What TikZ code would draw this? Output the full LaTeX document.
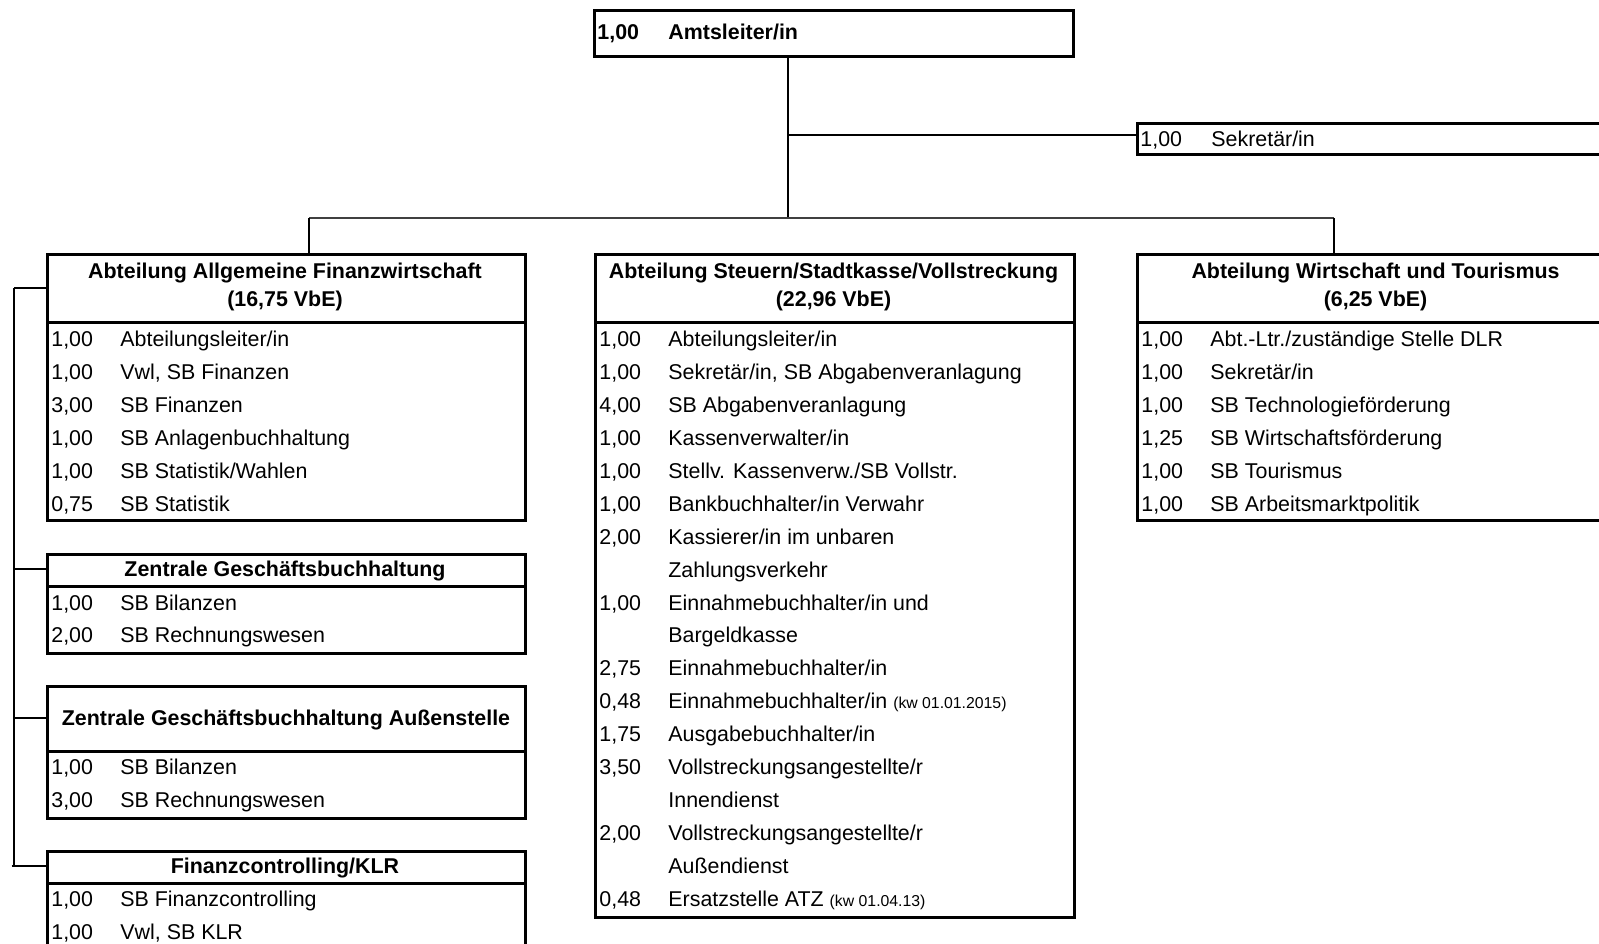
\documentclass[tikz,border=0pt]{standalone}
\usepackage{fontspec}
\setmainfont{Liberation Sans}
\usetikzlibrary{calc}
\tikzset{
 box/.style={draw, line width=1.5pt, inner sep=0pt, anchor=north west, rectangle},
 divider/.style={line width=1.5pt},
 conn/.style={line width=1pt, black},
 barline/.style={line width=0.8pt, black!75},
 rowtxt/.style={anchor=base west, inner sep=0pt, font=\fontsize{10.7}{12.8}\selectfont},
 boldtxt/.style={anchor=base west, inner sep=0pt, font=\fontsize{10.7}{12.8}\selectfont\bfseries},
 headtxt/.style={anchor=base, inner sep=0pt, font=\fontsize{10.7}{12.8}\selectfont\bfseries},
}
\newcommand{\smalltext}[1]{{\fontsize{7.9}{9}\selectfont #1}}
\newcommand{\orgbox}[5]{\node[box, minimum width={(#4-#2)*0.5pt}, minimum height={(#5-#3)*0.5pt}] (#1) at (#2,#3) {};}
\newcommand{\orgrow}[5]{%
 \node[rowtxt] (#1n) at ({#2+5},{346.5+32.94*#3}) {#4};
 \node[rowtxt] (#1t) at ({#2+74},{346.5+32.94*#3}) {#5};}
\begin{document}
\begin{tikzpicture}[x=0.5pt,y=-0.5pt]
\useasboundingbox (0,0) rectangle (1599,943);
\clip (0,0) rectangle (1599,943);

% ---- top boxes
\orgbox{amt}{593}{9}{1072}{55}
\node[boldtxt] (amtn) at (597,39) {1,00};
\node[boldtxt] (amtt) at (668,39) {Amtsleiter/in};

\orgbox{sek}{1136}{122}{1615}{153}
\node[rowtxt] (sekn) at (1140,146) {1,00};
\node[rowtxt] (sekt) at (1211,146) {Sekretär/in};

% ---- connectors top
\coordinate (jA) at (788,218);
\coordinate (jS) at (788,135);
\coordinate (bl) at (309,218);
\coordinate (br) at (1334,218);
\draw[conn] (amt.south -| jA) -- (jA);
\draw[conn] (jS) -- (jS -| sek.west);
\draw[barline] (bl) -- (br);

% ---- left: Abteilung Allgemeine Finanzwirtschaft
\orgbox{afw}{46}{253}{524}{519}
\draw[divider] (46,322.5) -- (524,322.5);
\node[headtxt] (afwh1) at (285,278) {Abteilung Allgemeine Finanzwirtschaft};
\node[headtxt] (afwh2) at (285,306) {(16,75 VbE)};
\orgrow{afwa}{46}{0}{1,00}{Abteilungsleiter/in}
\orgrow{afwb}{46}{1}{1,00}{Vwl, SB Finanzen}
\orgrow{afwc}{46}{2}{3,00}{SB Finanzen}
\orgrow{afwd}{46}{3}{1,00}{SB Anlagenbuchhaltung}
\orgrow{afwe}{46}{4}{1,00}{SB Statistik/Wahlen}
\orgrow{afwf}{46}{5}{0,75}{SB Statistik}

% ---- Zentrale Geschäftsbuchhaltung
\orgbox{zgb}{46}{553}{524}{652}
\draw[divider] (46,586) -- (524,586);
\node[headtxt] (zgbh) at (285,576.5) {Zentrale Geschäftsbuchhaltung};
\orgrow{zgba}{46}{8}{1,00}{SB Bilanzen}
\orgrow{zgbb}{46}{9}{2,00}{SB Rechnungswesen}

% ---- Zentrale Geschäftsbuchhaltung Außenstelle
\orgbox{zga}{46}{685}{524}{817}
\draw[divider] (46,751) -- (524,751);
\node[headtxt] (zgah) at (286,725) {Zentrale Geschäftsbuchhaltung Außenstelle};
\orgrow{zgaa}{46}{13}{1,00}{SB Bilanzen}
\orgrow{zgab}{46}{14}{3,00}{SB Rechnungswesen}

% ---- Finanzcontrolling/KLR
\orgbox{fc}{46}{850}{524}{965}
\draw[divider] (46,883) -- (524,883);
\node[headtxt] (fch) at (285,873.5) {Finanzcontrolling/KLR};
\orgrow{fca}{46}{17}{1,00}{SB Finanzcontrolling}
\orgrow{fcb}{46}{18}{1,00}{Vwl, SB KLR}

% ---- middle: Abteilung Steuern/Stadtkasse/Vollstreckung
\orgbox{ssv}{594}{253}{1073}{915.5}
\draw[divider] (594,322.5) -- (1073,322.5);
\node[headtxt] (ssvh1) at (833.5,278) {Abteilung Steuern/Stadtkasse/Vollstreckung};
\node[headtxt] (ssvh2) at (833.5,306) {(22,96 VbE)};
\orgrow{ssva}{594}{0}{1,00}{Abteilungsleiter/in}
\orgrow{ssvb}{594}{1}{1,00}{Sekretär/in, SB Abgabenveranlagung}
\orgrow{ssvc}{594}{2}{4,00}{SB Abgabenveranlagung}
\orgrow{ssvd}{594}{3}{1,00}{Kassenverwalter/in}
\orgrow{ssve}{594}{4}{1,00}{Stellv. Kassenverw./SB Vollstr.}
\orgrow{ssvf}{594}{5}{1,00}{Bankbuchhalter/in Verwahr}
\orgrow{ssvg}{594}{6}{2,00}{Kassierer/in im unbaren}
\orgrow{ssvh}{594}{7}{}{Zahlungsverkehr}
\orgrow{ssvi}{594}{8}{1,00}{Einnahmebuchhalter/in und}
\orgrow{ssvj}{594}{9}{}{Bargeldkasse}
\orgrow{ssvk}{594}{10}{2,75}{Einnahmebuchhalter/in}
\orgrow{ssvl}{594}{11}{0,48}{Einnahmebuchhalter/in \smalltext{(kw 01.01.2015)}}
\orgrow{ssvm}{594}{12}{1,75}{Ausgabebuchhalter/in}
\orgrow{ssvo}{594}{13}{3,50}{Vollstreckungsangestellte/r}
\orgrow{ssvp}{594}{14}{}{Innendienst}
\orgrow{ssvq}{594}{15}{2,00}{Vollstreckungsangestellte/r}
\orgrow{ssvr}{594}{16}{}{Außendienst}
\orgrow{ssvs}{594}{17}{0,48}{Ersatzstelle ATZ \smalltext{(kw 01.04.13)}}

% ---- right: Abteilung Wirtschaft und Tourismus
\orgbox{awt}{1136}{253}{1615}{519}
\draw[divider] (1136,322.5) -- (1615,322.5);
\node[headtxt] (awth1) at (1375.5,278) {Abteilung Wirtschaft und Tourismus};
\node[headtxt] (awth2) at (1375.5,306) {(6,25 VbE)};
\orgrow{awta}{1136}{0}{1,00}{Abt.-Ltr./zuständige Stelle DLR}
\orgrow{awtb}{1136}{1}{1,00}{Sekretär/in}
\orgrow{awtc}{1136}{2}{1,00}{SB Technologieförderung}
\orgrow{awtd}{1136}{3}{1,25}{SB Wirtschaftsförderung}
\orgrow{awte}{1136}{4}{1,00}{SB Tourismus}
\orgrow{awtf}{1136}{5}{1,00}{SB Arbeitsmarktpolitik}

% ---- connectors from bar
\draw[conn] (bl) -- (bl |- afw.north);
\draw[conn] (br) -- (br |- awt.north);

% ---- left bracket
\coordinate (k1) at (14,288);
\coordinate (k2) at (14,569);
\coordinate (k3) at (14,718);
\coordinate (k4) at (11.5,866);
\draw[conn] (k1) -- (k1 -| afw.west);
\draw[conn] (k2) -- (k2 -| zgb.west);
\draw[conn] (k3) -- (k3 -| zga.west);
\draw[conn] (k4) -- (k4 -| fc.west);
\draw[conn] (k1) -- (k1 |- k4);
\end{tikzpicture}
\end{document}
